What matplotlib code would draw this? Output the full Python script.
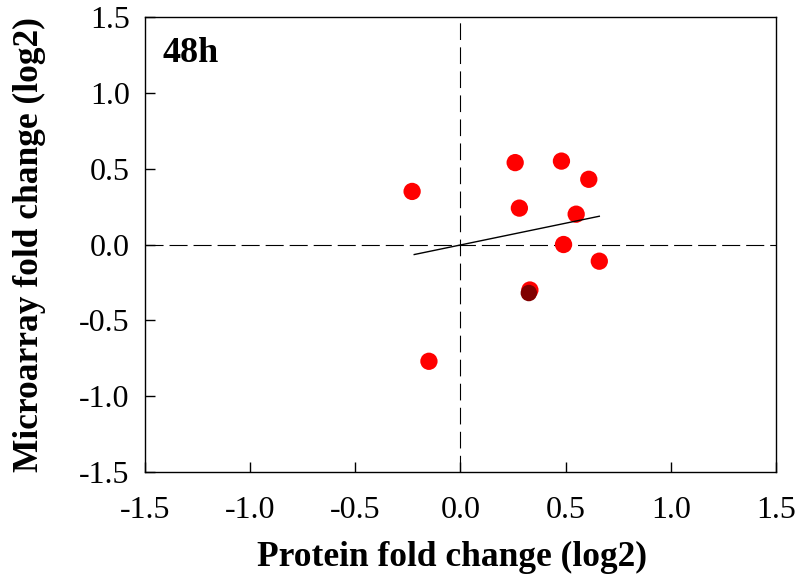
import numpy as np
import matplotlib
matplotlib.use("Agg")
import matplotlib.pyplot as plt

protein = [-0.23, 0.26, 0.48, 0.61, 0.28, 0.55, 0.49, 0.66, 0.33, -0.15]
microarray = [0.35, 0.54, 0.55, 0.43, 0.24, 0.20, 0.00, -0.11, -0.30, -0.77]
dark_protein = [0.325]
dark_microarray = [-0.32]
fit_slope = 0.287
fit_intercept = -0.003
ticks = [-1.5, -1.0, -0.5, 0.0, 0.5, 1.0, 1.5]
tick_labels = ["-1.5", "-1.0", "-0.5", "0.0", "0.5", "1.0", "1.5"]

plt.rcParams['font.family'] = ['Liberation Serif', 'DejaVu Serif']
plt.rcParams['lines.scale_dashes'] = False

fig = plt.figure(figsize=(7.98, 5.83), dpi=100)
ax = fig.add_axes([0.1817, 0.1904, 0.7907, 0.7804])

ax.axhline(0, color='black', lw=0.8, dashes=(13, 4.3), zorder=1)
ax.axvline(0, color='black', lw=0.8, dashes=(12, 5.3), zorder=1)

ax.scatter(protein, microarray, s=155, color='#ff0000', edgecolors='none', zorder=2)
ax.scatter(dark_protein, dark_microarray, s=140, color='#800000', edgecolors='none', zorder=3)

px = np.array(protein)
xl = np.array([px.min() + 0.01, px.max()])
ax.plot(xl, fit_slope * xl + fit_intercept, color='black', lw=1.0, zorder=4)

ax.set_xlim(-1.5, 1.5)
ax.set_ylim(-1.5, 1.5)
ax.set_xticks(ticks)
ax.set_xticklabels(tick_labels)
ax.set_yticks(ticks)
ax.set_yticklabels(tick_labels)
ax.tick_params(direction='in', length=7, width=1, labelsize=23)
ax.tick_params(axis='x', pad=17)
ax.tick_params(axis='y', pad=11)
for s in ax.spines.values():
    s.set_linewidth(1.0)

ax.set_xlabel('Protein fold change (log2)', fontsize=25.5, fontweight='bold', labelpad=12)
ax.xaxis.label.set_x(0.486)
ax.set_ylabel('Microarray fold change (log2)', fontsize=25.5, fontweight='bold', labelpad=24)
ax.text(0.028, 0.955, '48h', transform=ax.transAxes, fontsize=26, fontweight='bold', va='top', ha='left')

fig.savefig('out.png', dpi=100)
